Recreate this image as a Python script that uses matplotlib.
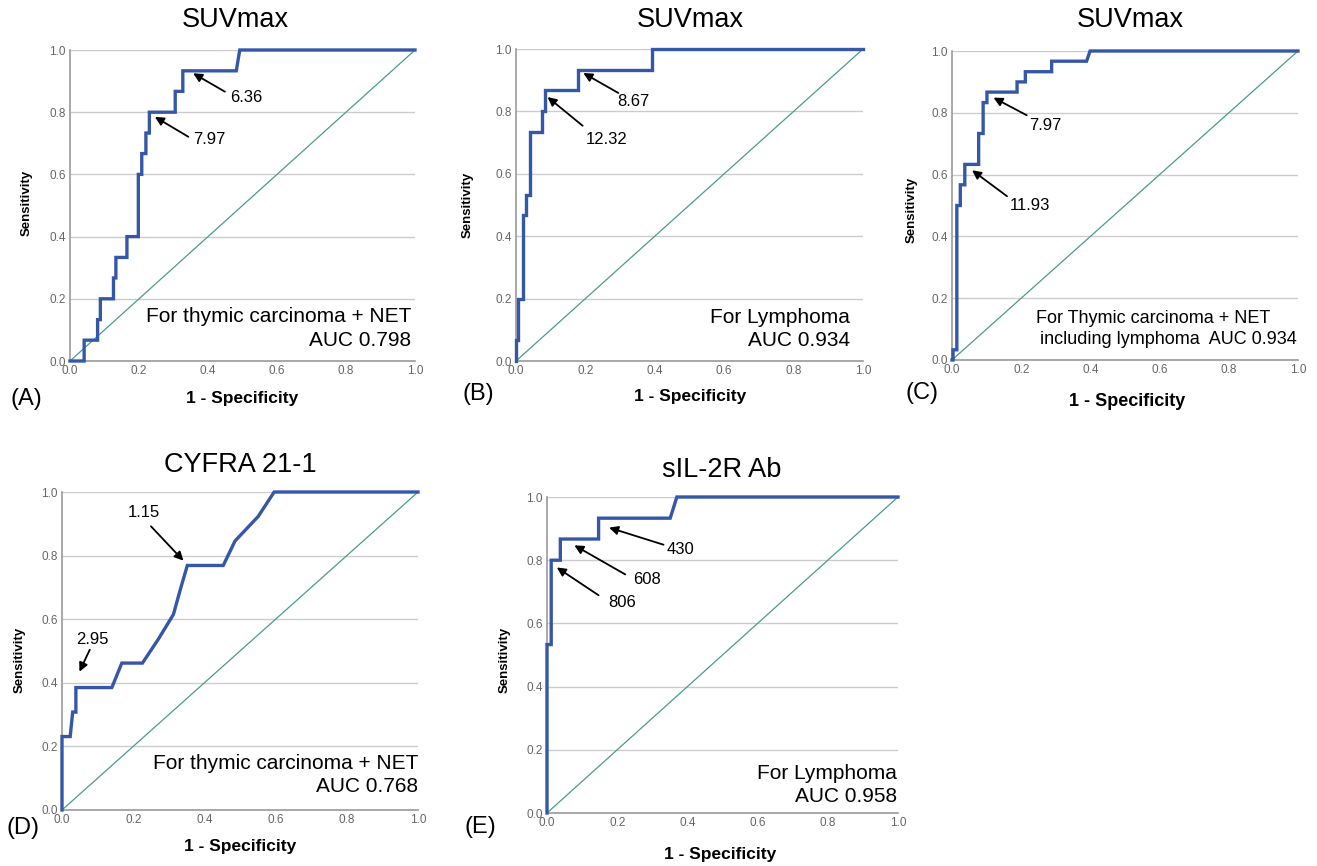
#!/usr/bin/env python3

import numpy as np
import matplotlib
matplotlib.use("Agg")
import matplotlib.pyplot as plt


plt.rcParams["font.family"] = ["Liberation Sans", "DejaVu Sans"]

# ---------------- Daten ----------------

# (A) SUVmax, thymic carcinoma + NET
fpr_a = [0, 0.041, 0.041, 0.08, 0.08, 0.088, 0.088, 0.126, 0.126, 0.133, 0.133, 0.165, 0.165,
         0.198, 0.198, 0.208, 0.208, 0.22, 0.22, 0.23, 0.23, 0.305, 0.305, 0.327, 0.327, 0.482, 0.492, 1.0]
tpr_a = [0, 0, 0.067, 0.067, 0.133, 0.133, 0.2, 0.2, 0.267, 0.267, 0.333, 0.333, 0.4,
         0.4, 0.6, 0.6, 0.667, 0.667, 0.733, 0.733, 0.8, 0.8, 0.867, 0.867, 0.933, 0.933, 1.0, 1.0]

# (B) SUVmax, Lymphoma
fpr_b = [0, 0, 0.007, 0.007, 0.021, 0.021, 0.029, 0.029, 0.04, 0.04, 0.074, 0.074, 0.083, 0.083,
         0.179, 0.179, 0.391, 0.391, 1.0]
tpr_b = [0, 0.067, 0.067, 0.2, 0.2, 0.467, 0.467, 0.533, 0.533, 0.733, 0.733, 0.8, 0.8, 0.867,
         0.867, 0.933, 0.933, 1.0, 1.0]

# (C) SUVmax, thymic carcinoma + NET incl. lymphoma
fpr_c = [0, 0.003, 0.003, 0.014, 0.014, 0.024, 0.024, 0.037, 0.037, 0.077, 0.077, 0.09, 0.09, 0.101, 0.101,
         0.188, 0.188, 0.212, 0.212, 0.288, 0.288, 0.389, 0.399, 1.0]
tpr_c = [0, 0, 0.033, 0.033, 0.5, 0.5, 0.567, 0.567, 0.633, 0.633, 0.733, 0.733, 0.833, 0.833, 0.867,
         0.867, 0.9, 0.9, 0.933, 0.933, 0.967, 0.967, 1.0, 1.0]

# (D) CYFRA 21-1, thymic carcinoma + NET
fpr_d = [0, 0, 0.023, 0.03, 0.03, 0.039, 0.039, 0.14, 0.168, 0.226, 0.271, 0.313, 0.332, 0.352,
         0.453, 0.486, 0.551, 0.596, 1.0]
tpr_d = [0, 0.231, 0.231, 0.308, 0.308, 0.308, 0.385, 0.385, 0.462, 0.462, 0.538, 0.615, 0.692, 0.769,
         0.769, 0.846, 0.923, 1.0, 1.0]

# (E) sIL-2R Ab, Lymphoma
fpr_e = [0, 0, 0.012, 0.012, 0.038, 0.038, 0.147, 0.147, 0.351, 0.37, 1.0]
tpr_e = [0, 0.533, 0.533, 0.8, 0.8, 0.867, 0.867, 0.933, 0.933, 1.0, 1.0]

panel_titles = ["SUVmax", "SUVmax", "SUVmax", "CYFRA 21-1", "sIL-2R Ab"]
panel_letters = ["(A)", "(B)", "(C)", "(D)", "(E)"]
panel_notes = [["For thymic carcinoma + NET", "AUC 0.798"],
               ["For Lymphoma", "AUC 0.934"],
               ["For Thymic carcinoma + NET", "including lymphoma  AUC 0.934"],
               ["For thymic carcinoma + NET", "AUC 0.768"],
               ["For Lymphoma", "AUC 0.958"]]

# Cut-off Werte: (Text, Pfeilspitze, Pfeilende, Textposition)
cutoffs_a = [("6.36", (0.357, 0.925), (0.449, 0.866), (0.512, 0.848)),
             ("7.97", (0.246, 0.785), (0.343, 0.721), (0.405, 0.712))]
cutoffs_b = [("8.67", (0.194, 0.923), (0.295, 0.859), (0.338, 0.833)),
             ("12.32", (0.091, 0.846), (0.192, 0.754), (0.261, 0.711))]
cutoffs_c = [("7.97", (0.12, 0.849), (0.216, 0.792), (0.269, 0.76)),
             ("11.93", (0.058, 0.614), (0.159, 0.53), (0.226, 0.501))]
cutoffs_d = [("1.15", (0.341, 0.784), (0.25, 0.892), (0.229, 0.934)),
             ("2.95", (0.049, 0.435), (0.078, 0.504), (0.086, 0.535))]
cutoffs_e = [("430", (0.177, 0.903), (0.332, 0.849), (0.381, 0.835)),
             ("608", (0.078, 0.847), (0.223, 0.755), (0.284, 0.74)),
             ("806", (0.028, 0.777), (0.147, 0.689), (0.213, 0.665))]

ticks = [0.0, 0.2, 0.4, 0.6, 0.8, 1.0]
tick_labels = ["0.0", "0.2", "0.4", "0.6", "0.8", "1.0"]


# ---------------- Layout ----------------

fig = plt.figure(figsize=(13.17, 8.66), dpi=100)
W, H = 1317.0, 866.0


def px_axes(left, top, right, bottom):
    return fig.add_axes([left / W, 1 - bottom / H, (right - left) / W, (bottom - top) / H])


boxes = [(70, 50, 415, 361), (516, 49, 863, 361), (952, 51, 1298, 360),
         (62, 492, 418, 810), (547, 497, 898, 813)]
curves = [(fpr_a, tpr_a), (fpr_b, tpr_b), (fpr_c, tpr_c), (fpr_d, tpr_d), (fpr_e, tpr_e)]
cutoffs = [cutoffs_a, cutoffs_b, cutoffs_c, cutoffs_d, cutoffs_e]

# Positionen der Zusatztexte (Pixel)
title_pos = [(235, 20), (690, 20), (1130, 20), (240, 465), (722, 470)]
xlabel_pos = [(242, 399), (690, 397), (1127, 402), (240, 846), (720, 855)]
letter_pos = [(10, 399), (462, 394), (905, 393), (7, 828), (465, 827)]
ylabel_pos = [(27, 203), (468, 205), (912, 210), (20, 660), (505, 660)]
note_size = [15, 15, 13, 15, 15]

blue = "#3557a7"
teal = "#4a9b8e"

for i in range(5):
    ax = px_axes(*boxes[i])
    fpr, tpr = curves[i]

    ax.plot([0, 1], [0, 1], color=teal, lw=0.9, zorder=2)
    ax.plot(fpr, tpr, color=blue, lw=2.4, solid_joinstyle="miter", zorder=3, clip_on=False)

    ax.set_xlim(0, 1)
    ax.set_ylim(0, 1)
    ax.set_xticks(ticks)
    ax.set_yticks(ticks)
    ax.set_xticklabels(tick_labels)
    ax.set_yticklabels(tick_labels)
    ax.tick_params(length=0, labelsize=8.5, labelcolor="#666666", pad=3)
    ax.grid(axis="y", color="#cccccc", lw=1.0)
    ax.set_axisbelow(True)
    for s in ["top", "right"]:
        ax.spines[s].set_visible(False)
    for s in ["left", "bottom"]:
        ax.spines[s].set_color("#9a9a9a")
        ax.spines[s].set_linewidth(1.2)

    # Pfeile mit Cut-off Werten
    for label, tip, tail, txt in cutoffs[i]:
        ax.annotate("", xy=tip, xytext=tail,
                    arrowprops=dict(arrowstyle="-|>", color="black", lw=1.3,
                                    mutation_scale=13, shrinkA=0, shrinkB=0))
        ax.text(txt[0], txt[1], label, fontsize=12, ha="center", va="center")

    # Text unten rechts
    n1, n2 = panel_notes[i]
    if i == 2:
        ax.text(0.243, 0.135, n1, fontsize=note_size[i], ha="left", va="center")
        ax.text(0.255, 0.065, n2, fontsize=note_size[i], ha="left", va="center")
    else:
        right = [0.99, 0.963, 1.0, 1.0, 0.998][i]
        y1 = [0.142, 0.141, 0.135, 0.147, 0.124][i]
        y2 = [0.067, 0.066, 0.065, 0.073, 0.053][i]
        ax.text(right, y1, n1, fontsize=note_size[i], ha="right", va="center")
        ax.text(right, y2, n2, fontsize=note_size[i], ha="right", va="center")

    tx, ty = title_pos[i]
    fig.text(tx / W, 1 - ty / H, panel_titles[i], fontsize=19.5, ha="center", va="center")
    lx, ly = xlabel_pos[i]
    fig.text(lx / W, 1 - ly / H, "1 - Specificity", fontsize=13 if i == 2 else 12.5,
             fontweight="bold", ha="center", va="center")
    px, py = letter_pos[i]
    fig.text(px / W, 1 - py / H, panel_letters[i], fontsize=17, ha="left", va="center")
    yx, yy = ylabel_pos[i]
    fig.text(yx / W, 1 - yy / H, "Sensitivity", fontsize=9.5, fontweight="bold",
             rotation=90, ha="center", va="center")

fig.savefig("out.png", dpi=100)
